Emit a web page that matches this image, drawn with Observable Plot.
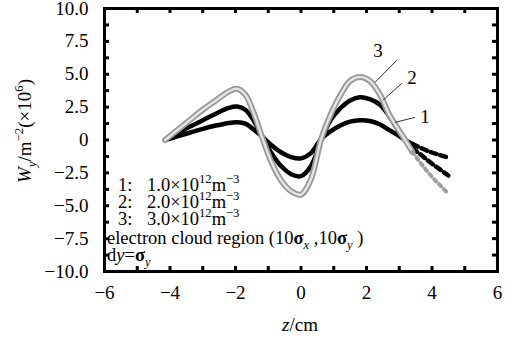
<!DOCTYPE html>
<html>
<head>
<meta charset="utf-8">
<script src="https://cdn.jsdelivr.net/npm/d3@7"></script>
<script src="https://cdn.jsdelivr.net/npm/@observablehq/plot@0.6"></script>
<style>
  html, body { margin: 0; padding: 0; background: white; }
  #chart svg { display: block; }
  #chart svg, #chart svg text { font-family: "Liberation Serif", "Times New Roman", "DejaVu Serif", serif !important; }
</style>
</head>
<body>
<div id="chart"></div>
<script>
// ---- data ----
const zs = [-4.15, -3.8, -3.4, -3.0, -2.6, -2.2, -1.95, -1.7, -1.45, -1.2, -0.9, -0.6, -0.3, 0, 0.3, 0.62, 0.9, 1.2, 1.5, 1.8, 2.1, 2.4, 2.7, 3.0, 3.18, 3.4, 3.7, 4.0, 4.25, 4.5];
const w1 = [0, 0.25, 0.55, 0.85, 1.1, 1.3, 1.35, 1.25, 0.8, 0.3, -0.4, -0.95, -1.3, -1.4, -1.0, 0.1, 0.65, 1.1, 1.4, 1.5, 1.45, 1.2, 0.75, 0.3, 0.0, -0.3, -0.65, -0.95, -1.15, -1.35];
const w2 = [0, 0.45, 1.0, 1.5, 2.0, 2.45, 2.55, 2.3, 1.5, 0.3, -1.0, -2.0, -2.6, -2.75, -2.0, 0.0, 1.5, 2.4, 3.0, 3.25, 3.1, 2.7, 1.8, 0.6, 0.0, -0.6, -1.2, -1.8, -2.25, -2.7];
const w3 = [0, 0.7, 1.5, 2.3, 3.0, 3.7, 3.9, 3.45, 2.1, 0.3, -1.7, -3.1, -3.9, -4.15, -3.0, 0.1, 1.9, 3.4, 4.5, 4.8, 4.5, 3.5, 1.9, 0.7, 0.0, -0.9, -1.9, -2.8, -3.45, -4.1];
const tailFrom = 3.4;

const xLabelTicks = [-6, -4, -2, 0, 2, 4, 6];
const xMinorTicks = [-6, -5, -4, -3, -2, -1, 0, 1, 2, 3, 4, 5, 6];
const yLabelTicks = [-10, -7.5, -5, -2.5, 0, 2.5, 5, 7.5, 10];
const yMinorTicks = d3.range(-10, 10.01, 1.25);

const curveLabels = ["1", "2", "3"];
const leaderFromZ = [2.87, 2.50, 2.26];
const leaderFromW = [1.34, 3.02, 4.39];
const leaderToZ = [3.48, 3.08, 2.93];
const leaderToW = [1.72, 4.31, 6.07];
const labelZ = [3.79, 3.39, 2.35];
const labelW = [1.79, 4.69, 6.76];

// ---- build ----
const data = zs.map((z, i) => ({z, w1: w1[i], w2: w2[i], w3: w3[i]}));
const main = data.filter(d => d.z <= tailFrom);
const tail = data.filter(d => d.z >= tailFrom);
const leaders = curveLabels.map((t, i) => ({t, x1: leaderFromZ[i], y1: leaderFromW[i], x2: leaderToZ[i], y2: leaderToW[i], lx: labelZ[i], ly: labelW[i]}));

const fmtY = d => d === 0 ? "0" : (d < 0 ? "\u2212" + (-d).toFixed(1) : d.toFixed(1));
const fmtX = d => d < 0 ? "\u2212" + (-d) : String(d);
const tx = 5 / 32.75, ty = 5 / 13.1;
const C = "catmull-rom";
const FONT = "'Liberation Serif', 'Times New Roman', 'DejaVu Serif', serif";

const plot = Plot.plot({
  width: 513,
  height: 340,
  marginLeft: 104,
  marginRight: 16,
  marginTop: 8,
  marginBottom: 69,
  style: {fontFamily: FONT, fontSize: "19px", background: "white", color: "black"},
  x: {domain: [-6, 6]},
  y: {domain: [-10, 10]},
  marks: [
    Plot.line(main, {x: "z", y: "w1", stroke: "black", strokeWidth: 4.5, curve: C}),
    Plot.line(tail, {x: "z", y: "w1", stroke: "black", strokeWidth: 4.5, strokeDasharray: "6,4", curve: C}),
    Plot.line(main, {x: "z", y: "w2", stroke: "black", strokeWidth: 4.5, curve: C}),
    Plot.line(tail, {x: "z", y: "w2", stroke: "black", strokeWidth: 4.5, strokeDasharray: "6,4", curve: C}),
    Plot.line(main, {x: "z", y: "w3", stroke: "#979797", strokeWidth: 6, curve: C}),
    Plot.line(main, {x: "z", y: "w3", stroke: "#e4e4e4", strokeWidth: 2.4, curve: C}),
    Plot.line(tail, {x: "z", y: "w3", stroke: "#a0a0a0", strokeWidth: 4, strokeDasharray: "3,4", curve: C}),
    Plot.link(leaders, {x1: "x1", y1: "y1", x2: "x2", y2: "y2", stroke: "#333", strokeWidth: 1}),
    Plot.text(leaders, {x: "lx", y: "ly", text: "t", fontSize: 19, fill: "black"}),
    Plot.ruleX(xMinorTicks, {x: d => d, y1: -10, y2: -10 + ty, stroke: "black", strokeWidth: 3}),
    Plot.ruleX(xMinorTicks, {x: d => d, y1: 10, y2: 10 - ty, stroke: "black", strokeWidth: 3}),
    Plot.ruleY(yMinorTicks, {y: d => d, x1: -6, x2: -6 + tx, stroke: "black", strokeWidth: 3}),
    Plot.ruleY(yMinorTicks, {y: d => d, x1: 6, x2: 6 - tx, stroke: "black", strokeWidth: 3}),
    Plot.frame({stroke: "black", strokeWidth: 3}),
    Plot.axisX({ticks: xLabelTicks, tickSize: 0, tickPadding: 14, tickFormat: fmtX, label: null, fill: "black", fontSize: 19}),
    Plot.axisY({ticks: yLabelTicks, tickSize: 0, tickPadding: 16, tickFormat: fmtY, label: null, fill: "black", fontSize: 19})
  ]
});
document.getElementById("chart").appendChild(plot);

// ---- rich text (labels with sub/superscripts) ----
const svg = d3.select(plot);
svg.selectAll("text").attr("font-family", FONT).style("font-family", FONT);
function rich(x, y, parts, size, transform, anchor) {
  const t = svg.append("text").attr("x", x).attr("y", y).attr("font-size", size)
    .attr("fill", "black").attr("font-family", FONT)
    .attr("text-anchor", anchor || "start");
  if (transform) t.attr("transform", transform);
  let shift = 0;
  for (const p of parts) {
    const s = t.append("tspan").text(p.t);
    const target = p.sup ? -size * 0.42 : p.sub ? size * 0.25 : 0;
    if (target - shift !== 0) s.attr("dy", target - shift);
    shift = target;
    if (p.sup || p.sub) s.attr("font-size", size * 0.68);
    if (p.i) s.attr("font-style", "italic");
    if (p.b) s.attr("font-weight", "bold");
    if (p.x != null) s.attr("x", p.x);
  }
  return t;
}
// y-axis title
rich(0, 0, [
  {t: "W", i: true}, {t: "y", i: true, sub: true}, {t: "/m"}, {t: "\u22122", sup: true},
  {t: "(\u00d710"}, {t: "6", sup: true}, {t: ")"}
], 19, "translate(31,131) rotate(-90)", "middle");
// x-axis title
rich(0, 0, [{t: "z", i: true}, {t: "/cm"}], 19, "translate(300,331)", "middle");
// legend lines
const dens = ["1.0", "2.0", "3.0"];
const baseY = [191, 208, 225];
dens.forEach((v, i) => {
  rich(118, baseY[i], [
    {t: (i + 1) + ":"}, {t: v + "\u00d710", x: 147}, {t: "12", sup: true}, {t: "m"}, {t: "\u22123", sup: true}
  ], 18.5);
});
rich(107, 244, [
  {t: "electron cloud region (10"}, {t: "\u03c3", b: true}, {t: "x", i: true, sub: true},
  {t: " ,10"}, {t: "\u03c3", b: true}, {t: "y", i: true, sub: true}, {t: " )"}
], 18.5);
rich(107, 261, [
  {t: "d"}, {t: "y", i: true}, {t: "="}, {t: "\u03c3", b: true}, {t: "y", i: true, sub: true}
], 18.5);
</script>
</body>
</html>
